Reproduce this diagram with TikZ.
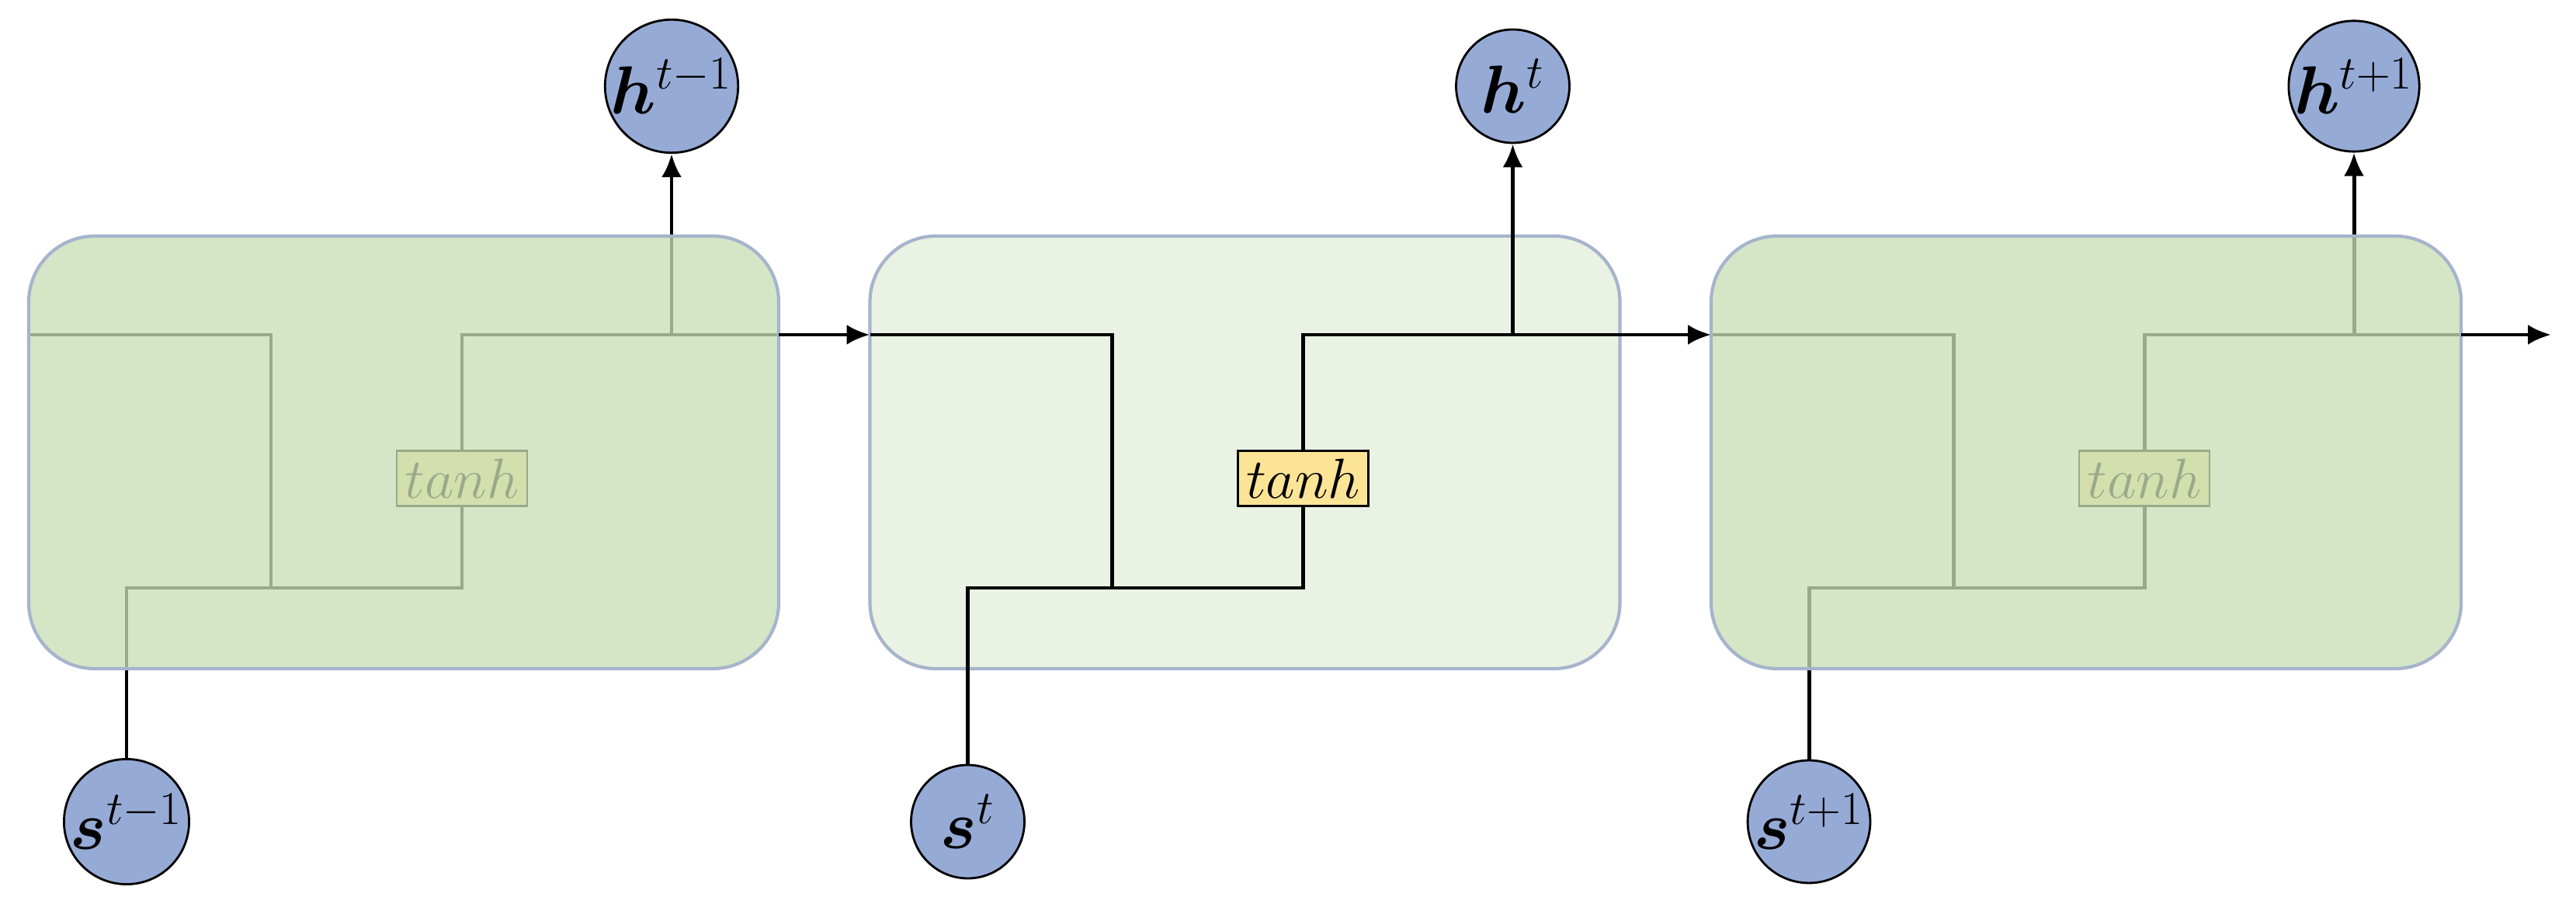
\documentclass[tikz,border=0pt]{standalone}
\usepackage{amsmath}
\usepackage{bm}
\usetikzlibrary{arrows.meta}
\usetikzlibrary{positioning}
\definecolor{cellgreen}{RGB}{200,222,182}
\definecolor{cellborder}{RGB}{166,180,204}
\definecolor{unitblue}{RGB}{150,170,214}
\definecolor{tanhyellow}{RGB}{252,228,150}
\newcommand{\cellbox}[2]{\node[cell, #2] (#1) at (5.20, 5.815) {};}

\begin{document}
\begin{tikzpicture}[line width=1.4pt, >={Latex[length=0.3cm,width=0.26cm]},
    cell/.style={rectangle, rounded corners=0.85cm, minimum width=9.66cm,
        minimum height=5.57cm, draw=cellborder, line width=1.2pt, inner sep=0pt},
    unit/.style={circle, draw, line width=0.8pt, fill=unitblue, minimum size=1.46cm,
        inner sep=0pt, font=\fontsize{24}{28}\selectfont},
    act/.style={rectangle, draw, line width=0.8pt, fill=tanhyellow,
        inner sep=3pt, font=\fontsize{20}{24}\selectfont}]

    \useasboundingbox (0,0) rectangle (33.18,11.64);

    % one cell per time step, the outer two are faded
    \foreach \i/\lh/\ls in {0/{t-1}/{t-1}, 1/{t}/{t}, 2/{t+1}/{t+1}} {
        \begin{scope}[xshift=10.835*\i cm]
            \ifnum\i=1 \cellbox{cell\i}{fill=cellgreen, fill opacity=0.38} \fi

            % coordinates of the corners of the wires
            \coordinate (in\i) at (0.37, 7.33);
            \coordinate (out\i) at (10.03, 7.33);
            \coordinate (split\i) at (3.49, 7.33);
            \coordinate (join\i) at (3.49, 4.07);
            \coordinate (top\i) at (6.00, 7.33);
            \coordinate (tap\i) at (8.65, 7.33);

            \node[act] (tanh\i) at (5.95, 5.48) {$tanh$};
            \node[unit] (s\i) at (1.63, 1.06) {$\bm{s}^{\ls}$};
            \node[unit] (h\i) at (8.65, 10.53) {$\bm{h}^{\lh}$};

            \draw (in\i) -- (split\i) -- (join\i);
            \draw (s\i) |- (join\i) -| (tanh\i);
            \draw (tanh\i) |- (top\i) -- (out\i);
            \draw[->] (tap\i) -- (h\i);

            \ifnum\i=1 \else
                \cellbox{cell\i}{fill=cellgreen, fill opacity=0.77}
            \fi
        \end{scope}
    }

    \coordinate (end) at (32.86, 7.33);
    \draw[->] (out0) -- (in1);
    \draw[->] (out1) -- (in2);
    \draw[->] (out2) -- (end);

\end{tikzpicture}
\end{document}
